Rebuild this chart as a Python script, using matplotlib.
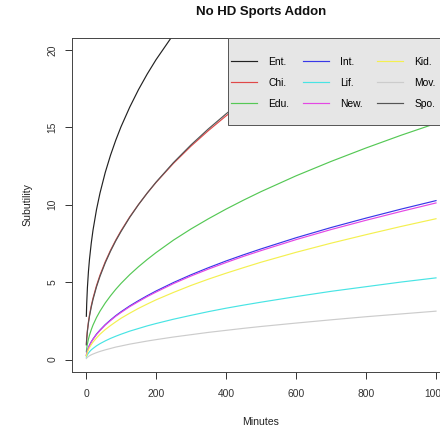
import matplotlib
matplotlib.use("Agg")
import matplotlib.pyplot as plt
from matplotlib.patches import Rectangle

plt.rcParams['font.family'] = ['Liberation Sans', 'DejaVu Sans']

minutes = [1, 2, 4, 7, 10, 15, 20, 30, 40, 55, 70, 85, 100, 125, 150, 175, 200,
           250, 300, 350, 400, 450, 500, 600, 700, 800, 900, 1000]

ent_minutes = [1, 2, 4, 7, 10, 15, 20, 30, 40, 55, 70, 85, 100, 125, 150, 175, 200, 250, 300]
ent = [2.80, 3.61, 4.64, 5.70, 6.49, 7.52, 8.36, 9.69, 10.76, 12.09, 13.20, 14.17,
       15.04, 16.31, 17.44, 18.45, 19.37, 21.01, 22.45]

chi_minutes = [1, 2, 4, 7, 10, 15, 20, 30, 40, 55, 70, 85, 100, 125, 150, 175, 200,
               250, 300, 350, 400, 450, 500, 600, 700, 800]
chi = [1.00, 1.38, 1.89, 2.45, 2.88, 3.48, 3.97, 4.78, 5.46, 6.32, 7.06, 7.72, 8.32,
       9.22, 10.02, 10.76, 11.44, 12.68, 13.79, 14.80, 15.74, 16.61, 17.44, 18.97, 20.36, 21.65]
spo = [0.95, 1.32, 1.82, 2.37, 2.80, 3.39, 3.88, 4.70, 5.38, 6.25, 7.00, 7.67, 8.27,
       9.19, 10.01, 10.76, 11.46, 12.73, 13.87, 14.91, 15.87, 16.78, 17.63, 19.20, 20.65, 21.99]

edu = [0.51, 0.72, 1.01, 1.33, 1.58, 1.93, 2.23, 2.72, 3.13, 3.66, 4.12, 4.54, 4.92,
       5.49, 6.00, 6.47, 6.91, 7.72, 8.44, 9.10, 9.72, 10.30, 10.85, 11.87, 12.80, 13.67, 14.49, 15.26]
int_ = [0.28, 0.40, 0.58, 0.77, 0.93, 1.15, 1.33, 1.65, 1.91, 2.26, 2.56, 2.84, 3.09,
        3.47, 3.81, 4.13, 4.43, 4.98, 5.48, 5.94, 6.37, 6.77, 7.15, 7.87, 8.53, 9.14, 9.72, 10.27]
new = [0.28, 0.39, 0.57, 0.76, 0.92, 1.13, 1.31, 1.62, 1.88, 2.23, 2.52, 2.80, 3.04,
       3.42, 3.75, 4.07, 4.36, 4.91, 5.40, 5.85, 6.27, 6.67, 7.04, 7.75, 8.40, 9.00, 9.57, 10.12]
kid = [0.23, 0.33, 0.48, 0.65, 0.78, 0.97, 1.13, 1.40, 1.64, 1.94, 2.20, 2.44, 2.67,
       3.00, 3.31, 3.59, 3.86, 4.34, 4.79, 5.20, 5.58, 5.94, 6.29, 6.93, 7.52, 8.07, 8.60, 9.10]
lif = [0.16, 0.22, 0.32, 0.42, 0.51, 0.63, 0.72, 0.89, 1.03, 1.21, 1.37, 1.51, 1.64,
       1.84, 2.01, 2.18, 2.33, 2.61, 2.86, 3.10, 3.32, 3.52, 3.71, 4.07, 4.41, 4.71, 5.01, 5.28]
mov = [0.07, 0.10, 0.15, 0.20, 0.25, 0.31, 0.36, 0.45, 0.53, 0.63, 0.72, 0.81, 0.88,
       1.00, 1.10, 1.20, 1.29, 1.46, 1.61, 1.76, 1.89, 2.02, 2.14, 2.36, 2.57, 2.77, 2.95, 3.13]

x_ticks = [0, 200, 400, 600, 800, 1000]
y_ticks = [0, 5, 10, 15, 20]

fig = plt.figure(figsize=(4.4, 4.3), dpi=100)
ax = fig.add_axes([72/440, 58/430, 378/440, 334.4/430])

lw = 0.85
series = [
    ('Ent.', ent_minutes, ent, '#222222'),
    ('Chi.', chi_minutes, chi, '#e04848'),
    ('Edu.', minutes, edu, '#55c855'),
    ('Int.', minutes, int_, '#3838e8'),
    ('Lif.', minutes, lif, '#48e4e4'),
    ('New.', minutes, new, '#e448e4'),
    ('Kid.', minutes, kid, '#f4f050'),
    ('Mov.', minutes, mov, '#cccccc'),
    ('Spo.', chi_minutes, spo, '#555555'),
]
handles = []
for name, xs, ys, c in series:
    h, = ax.plot(xs, ys, color=c, lw=lw, label=name, zorder=2)
    handles.append(h)

ax.set_xlim(-40, 1040)
ax.set_ylim(-0.8, 20.8)
ax.set_xticks(x_ticks)
ax.set_yticks(y_ticks)
ax.set_xticklabels([str(v) for v in x_ticks])
ax.set_yticklabels([str(v) for v in y_ticks], rotation=90, va='center')
ax.tick_params(direction='out', length=5, width=0.7, colors='#333333', labelsize=7.4)
ax.tick_params(axis='x', pad=7.5)
ax.tick_params(axis='y', pad=5.5)
for s in ax.spines.values():
    s.set_color('#444444')
    s.set_linewidth(0.7)

ax.set_xlabel('Minutes', fontsize=7.6, color='#222222')
ax.xaxis.set_label_coords(0.5, -0.134)
ax.set_ylabel('Subutility', fontsize=7.6, color='#222222')
ax.yaxis.set_label_coords(-0.104, 0.5)

fig.text(261/440, 1 - 12/430, 'No HD Sports Addon', ha='center', va='center',
         fontsize=9.5, fontweight='bold', color='#111111')

# legend background box
lx0 = (228 - 72) / 378
ly0 = (372 - 125) / 334.4
rect = Rectangle((lx0, ly0), 1.2, 1 - ly0, transform=ax.transAxes,
                 facecolor='#e6e6e6', edgecolor='#555555', lw=0.7, zorder=5,
                 clip_on=False)
ax.add_patch(rect)

leg = ax.legend(handles=handles, ncol=3, loc='upper left',
                bbox_to_anchor=((231 - 72) / 378, (372 - 57) / 334.4),
                frameon=False, fontsize=7.4, handlelength=2.5,
                handletextpad=1.1, columnspacing=1.4, labelspacing=1.05,
                borderpad=0, borderaxespad=0)
leg.set_zorder(6)

fig.savefig('out.png', dpi=100)
